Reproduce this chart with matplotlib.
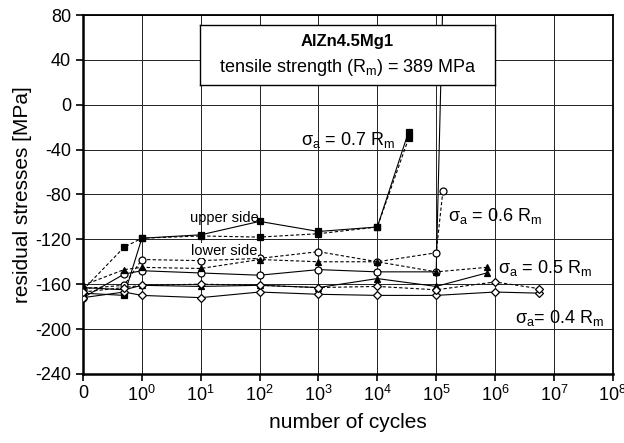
import numpy as np
import matplotlib
matplotlib.use("Agg")
import matplotlib.pyplot as plt

plt.rcParams['font.family'] = ['Liberation Sans', 'DejaVu Sans']
plt.rcParams['mathtext.fontset'] = 'custom'
plt.rcParams['mathtext.rm'] = 'Liberation Sans'
plt.rcParams['mathtext.it'] = 'Liberation Sans:italic'
plt.rcParams['axes.unicode_minus'] = False

# number of cycles for each measurement (0 = as received, 0.5 = first half cycle)
cycles_07 = [0, 0.5, 1, 10, 100, 1e3, 1e4, 3.4e4]
upper_07 = [-168, -170, -119, -116, -104, -113, -109, -24]
lower_07 = [-165, -127, -119, -117, -118, -115, -109, -30]

cycles_06 = [0, 0.5, 1, 10, 100, 1e3, 1e4, 1e5, 1.3e5]
upper_06 = [-172, -151, -148, -150, -152, -147, -149, -149, 95]
lower_06 = [-164, -161, -138, -139, -137, -131, -140, -132, -77]

cycles_05 = [0, 0.5, 1, 10, 100, 1e3, 1e4, 1e5, 7.2e5]
upper_05 = [-163, -165, -161, -162, -161, -163, -155, -162, -150]
lower_05 = [-161, -147, -145, -146, -138, -140, -140, -149, -145]

cycles_04 = [0, 0.5, 1, 10, 100, 1e3, 1e4, 1e5, 1e6, 5.6e6]
upper_04 = [-172, -167, -170, -172, -167, -169, -170, -170, -167, -168]
lower_04 = [-167, -163, -161, -160, -161, -163, -162, -165, -158, -164]

xtick_values = [0, 1, 10, 100, 1e3, 1e4, 1e5, 1e6, 1e7, 1e8]
xtick_labels = ["0"] + [r"10$^{%d}$" % k for k in range(9)]


def fwd(x):
    x = np.asarray(x, dtype=float)
    return np.log10(np.maximum(x, 0.1))


def inv(y):
    return 10.0 ** np.asarray(y, dtype=float)


fig = plt.figure(figsize=(6.24, 4.43), dpi=100)
ax = fig.add_axes([0.133, 0.156, 0.849, 0.81])
ax.set_xscale('function', functions=(fwd, inv))

ms = 5.0
lw = 0.8
series = [
    (cycles_07, upper_07, lower_07, dict(marker='s', mfc='black', mec='black')),
    (cycles_06, upper_06, lower_06, dict(marker='o', mfc='white', mec='black')),
    (cycles_05, upper_05, lower_05, dict(marker='^', mfc='black', mec='black')),
    (cycles_04, upper_04, lower_04, dict(marker='D', mfc='white', mec='black')),
]
for cyc, up, low, mk in series:
    msize = ms - 0.8 if mk['marker'] == 'D' else ms
    ax.plot(cyc, up, color='black', lw=lw, ls='-', ms=msize, mew=0.9, zorder=3, **mk)
    ax.plot(cyc, low, color='black', lw=lw, ls=(0, (3, 2)), ms=msize, mew=0.9, zorder=3, **mk)

ax.set_xlim(0, 1e8)
ax.set_ylim(-240, 80)
ax.set_xticks(xtick_values)
ax.set_xticklabels(xtick_labels, fontsize=13)
ax.set_yticks(np.arange(-240, 81, 40))
ax.tick_params(axis='y', labelsize=13, direction='out', length=5, width=1.2)
ax.tick_params(axis='x', direction='out', length=5, width=1.2, pad=3)
ax.grid(True, color='#222222', lw=0.7)
ax.set_axisbelow(True)
for side in ['left', 'bottom']:
    ax.spines[side].set_linewidth(1.8)
for side in ['top', 'right']:
    ax.spines[side].set_linewidth(1.3)

ax.set_xlabel("number of cycles", fontsize=15, labelpad=6)
ax.set_ylabel("residual stresses [MPa]", fontsize=15, labelpad=2)

# title box
box_ax = fig.add_axes([200 / 624, 1 - 85 / 443, (495 - 200) / 624, (85 - 25) / 443])
box_ax.set_xticks([])
box_ax.set_yticks([])
box_ax.set_facecolor('white')
for s in box_ax.spines.values():
    s.set_linewidth(1.0)
box_ax.set_zorder(5)
box_ax.text(0.5, 0.72, "AlZn4.5Mg1", fontsize=12, fontweight='bold', ha='center', va='center')
box_ax.text(0.5, 0.3, r"tensile strength (R$_\mathrm{m}$) = 389 MPa", fontsize=13,
            ha='center', va='center')

lab = dict(fontsize=13, ha='center', va='center', zorder=6)
ax.text(inv(3.5), -31, r"σ$_\mathrm{a}$ = 0.7 R$_\mathrm{m}$", **lab)
ax.text(inv(6.0), -99, r"σ$_\mathrm{a}$ = 0.6 R$_\mathrm{m}$", **lab)
ax.text(inv(6.85), -146, r"σ$_\mathrm{a}$ = 0.5 R$_\mathrm{m}$", **lab)
ax.text(inv(7.1), -190, r"σ$_\mathrm{a}$= 0.4 R$_\mathrm{m}$", **lab)
ax.text(inv(1.4), -101, "upper side", fontsize=10.5, ha='center', va='center', zorder=6)
ax.text(inv(1.4), -130, "lower side", fontsize=10.5, ha='center', va='center', zorder=6,
        bbox=dict(facecolor='white', edgecolor='none', pad=0.5))

fig.savefig("out.png", dpi=100)
